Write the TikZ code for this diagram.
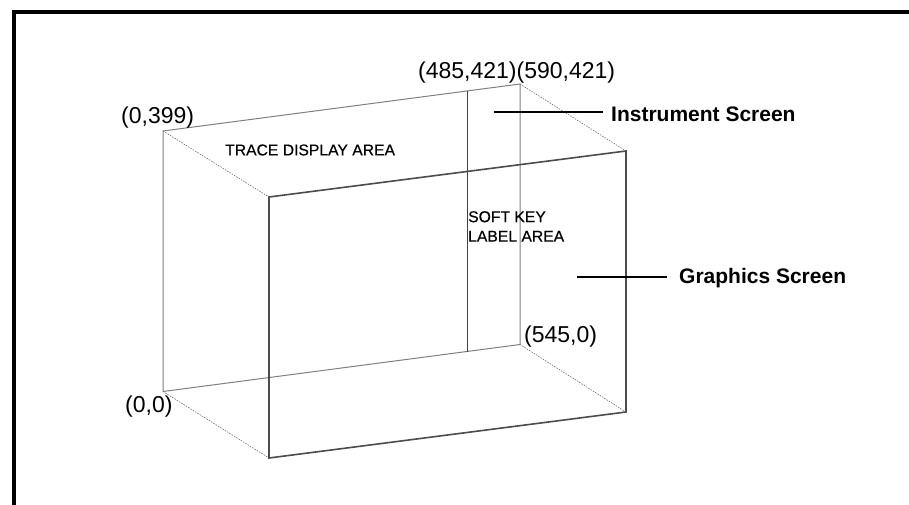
\documentclass[tikz,border=0pt]{standalone}
\usepackage{fontspec}
\setmainfont{Liberation Sans}
\tikzset{
  x=1pt,y=-1pt,
  backline/.style={draw=black!50,line width=1pt},
  midline/.style={draw=black!75,line width=0.8pt},
  frontline/.style={draw=black!70,line width=1.6pt},
  depth/.style={draw=black!65,line width=0.5pt,dash pattern=on 1.5pt off 1.2pt},
  leader/.style={draw=black,line width=1.9pt},
  frameline/.style={draw=black,line width=4pt},
  coordlabel/.style={inner sep=0pt,font=\fontsize{23}{24}\selectfont},
  arealabel/.style={inner sep=0pt,align=left,font=\fontsize{15.7}{19.5}\selectfont\addfontfeature{FakeBold=0.4}},
  boldlabel/.style={inner sep=0pt,font=\fontsize{21}{24}\selectfont\bfseries}
}
\begin{document}
\begin{tikzpicture}
\useasboundingbox (0,0) rectangle (909,505);
\fill[white] (0,0) rectangle (909,505);
% frame
\coordinate (f1) at (14,505);
\coordinate (f2) at (14,12);
\coordinate (f3) at (909,12);
\draw[frameline] (f1) -- (f2) -- (f3);
% corners
\coordinate (bTL) at (163,131);
\coordinate (bTM) at (467,91);
\coordinate (bTR) at (520,84);
\coordinate (bBL) at (163,391.5);
\coordinate (bBM) at (467,351.5);
\coordinate (bBR) at (520,344.5);
\coordinate (fTL) at (269,197);
\coordinate (fTR) at (626,151);
\coordinate (fBL) at (269,458);
\coordinate (fBR) at (626,412);
% depth
\draw[depth] (bTL) -- (fTL);
\draw[depth] (bTR) -- (fTR);
\draw[depth] (bBL) -- (fBL);
\draw[depth] (bBR) -- (fBR);
% back
\draw[backline] (bTL) -- (bTR) -- (bBR) -- (bBL) -- cycle;
\draw[midline] (bTM) -- (bBM);
% front
\draw[frontline] (fTL) -- (fTR) -- (fBR) -- (fBL) -- cycle;
% leaders
\node[boldlabel,anchor=west] (inst) at (611,114) {Instrument Screen};
\node[boldlabel,anchor=west] (gfx) at (679,278) {Graphics Screen};
\coordinate (instEnd) at (494,112);
\coordinate (gfxEnd) at (577,277);
\draw[leader] (instEnd) -- (603,112);
\draw[leader] (gfxEnd) -- (667,277);
% labels
\node[coordlabel,anchor=west] (l1) at (121,118) {(0,399)};
\node[coordlabel,anchor=west] (l2) at (418,73) {(485,421)(590,421)};
\node[coordlabel,anchor=west] (l3) at (125,407) {(0,0)};
\node[coordlabel,anchor=west] (l4) at (524,337) {(545,0)};
\node[arealabel,anchor=west] (tda) at (225,150) {TRACE DISPLAY AREA};
\node[arealabel,anchor=north west] (sk) at (468,211) {SOFT KEY\\LABEL AREA};
\end{tikzpicture}
\end{document}
